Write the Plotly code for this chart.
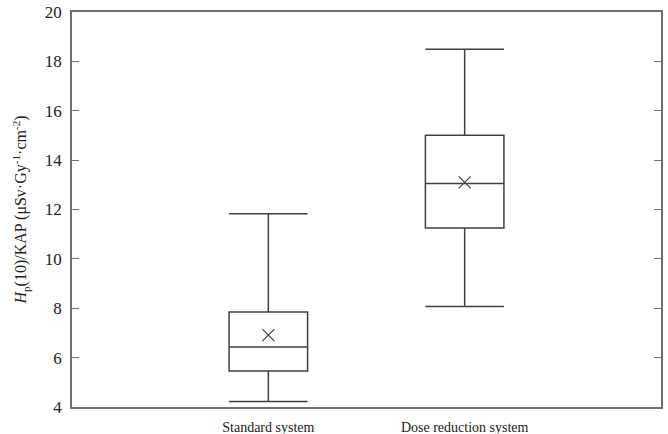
import plotly.graph_objects as go

categories = ["Standard system", "Dose reduction system"]
lower_whisker = [4.22, 8.07]
q1_vals = [5.46, 11.25]
median_vals = [6.43, 13.05]
q3_vals = [7.85, 15.01]
upper_whisker = [11.83, 18.49]
mean_vals = [6.91, 13.1]

LINE = "#404040"
FONT = "Liberation Serif, Times New Roman, serif"

fig = go.Figure()
fig.add_trace(go.Box(
    x=categories,
    q1=q1_vals, median=median_vals, q3=q3_vals,
    lowerfence=lower_whisker, upperfence=upper_whisker,
    width=0.4, whiskerwidth=1,
    fillcolor="white",
    line=dict(color=LINE, width=1.5),
    boxpoints=False,
    showlegend=False,
    hoverinfo="skip",
))
fig.add_trace(go.Scatter(
    x=categories, y=mean_vals, mode="markers",
    marker=dict(symbol="x-thin-open", size=12, color=LINE,
                line=dict(color=LINE, width=1.2)),
    showlegend=False, hoverinfo="skip",
))

fig.update_layout(
    width=668, height=434,
    margin=dict(l=72, r=7, t=12, b=27),
    plot_bgcolor="white", paper_bgcolor="white",
    font=dict(family=FONT, size=15, color="#222222"),
)
fig.update_xaxes(
    type="category", range=[-1, 2],
    showline=True, linecolor="#707070", linewidth=1.5, mirror=True,
    ticks="", showgrid=False, zeroline=False, automargin=False,
    tickfont=dict(family=FONT, size=14),
    ticklabelstandoff=6,
)
fig.update_yaxes(
    range=[4, 20], dtick=2,
    showline=True, linecolor="#707070", linewidth=1.5, mirror="ticks",
    ticks="inside", ticklen=7, tickcolor="#707070", tickwidth=1.2,
    showgrid=False, zeroline=False, automargin=False,
    tickfont=dict(family=FONT, size=17),
    ticklabelstandoff=5,
    title=dict(text="<i>H</i><sub>p</sub>(10)/KAP (μSv·Gy<sup>-1</sup>·cm<sup>-2</sup>)",
               font=dict(family=FONT, size=16), standoff=14),
)

fig.write_html("out.html")
